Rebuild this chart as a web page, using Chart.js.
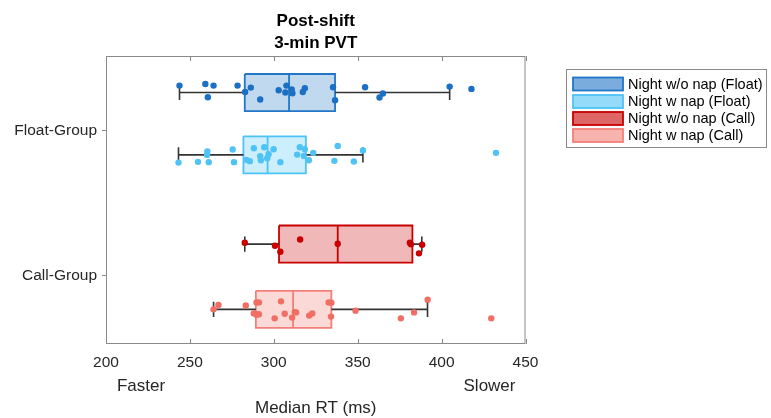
<!DOCTYPE html>
<html><head><meta charset="utf-8">
<script src="https://cdn.jsdelivr.net/npm/chart.js@4.4.1/dist/chart.umd.min.js"></script>
<style>html,body{margin:0;padding:0;background:#fff;}#wrap{width:771px;height:418px;position:relative;}</style>
</head><body><div id="wrap"><canvas id="c" width="771" height="418"></canvas></div>
<script>
// ---------- data ----------
const chartTitle = ['Post-shift', '3-min PVT'];
const xTitleLeft = 'Faster';
const xTitleRight = 'Slower';
const xTitle = 'Median RT (ms)';
const groupLabels = ['Float-Group', 'Call-Group'];
const groupPositions = [1, 2];
const xTickValues = [200, 250, 300, 350, 400, 450];
const seriesNames = ['Night w/o nap (Float)', 'Night w nap (Float)', 'Night w/o nap (Call)', 'Night w nap (Call)'];

const boxQ1      = [282.7, 281.9, 303.1, 289.3];
const boxMedian  = [309.1, 296.3, 338.1, 311.5];
const boxQ3      = [336.5, 319.1, 382.6, 334.3];
const whiskerLow = [243.8, 243.2, 282.7, 264.1];
const whiskerHigh= [404.8, 353.1, 388.2, 391.6];

const floatNoNapRT = [243.8, 259.2, 264.1, 278.4, 260.7, 286.3, 282.9, 291.9, 302.9, 307.5, 306.9, 310.7, 311.1, 317.3, 318.5, 335.3, 336.5, 354.4, 365.0, 363.0, 404.8, 417.8];
const floatNoNapJitter = [-0.048, -0.059, -0.048, -0.048, 0.032, -0.034, -0.004, 0.048, -0.016, -0.048, 0, -0.021, 0.005, -0.004, -0.030, -0.037, 0.053, -0.037, 0.007, 0.034, -0.041, -0.025];

const floatNapRT = [243.2, 254.8, 260.4, 260.2, 261.2, 275.5, 276.3, 283.7, 285.7, 288.1, 291.9, 292.3, 294.3, 296.1, 296.9, 299.9, 303.9, 315.5, 318.5, 313.9, 317.9, 320.9, 323.5, 338.1, 336.1, 347.7, 353.1, 432.4];
const floatNapJitter = [0.053, 0.048, -0.023, 0, 0.050, -0.037, 0.050, 0.034, 0.043, -0.046, 0.009, 0.037, -0.053, 0.023, -0.005, -0.039, 0.050, -0.053, -0.039, -0.002, 0.007, 0.037, -0.014, -0.062, 0.041, 0.046, -0.030, -0.014];

const callNoNapRT = [282.7, 300.7, 303.9, 315.7, 338.1, 381.1, 381.7, 388.4, 386.5];
const callNoNapJitter = [-0.009, 0.012, 0.053, -0.032, -0.002, -0.009, 0.002, 0.005, 0.064];

const callNapRT = [264.1, 267.0, 283.3, 289.7, 291.1, 288.1, 289.7, 291.1, 304.3, 306.5, 300.5, 310.9, 312.5, 313.3, 321.1, 322.9, 332.7, 334.3, 334.1, 348.7, 375.7, 383.6, 391.7, 429.6];
const callNapJitter = [0, -0.030, -0.026, -0.048, -0.048, 0.028, 0.037, 0.034, -0.055, 0.030, 0.062, 0.057, 0.019, 0.021, 0.043, 0.028, -0.048, -0.046, 0.050, 0.009, 0.062, 0.021, -0.067, 0.062];

// ---------- layout / style ----------
const rowPositions = [0.735, 1.165, 1.78, 2.23];
const BOX_HALF = 0.128;
const CAP_HALF = 0.052;
const edgeColors  = ['rgb(33,118,199)', 'rgb(77,195,245)', 'rgb(200,0,0)', 'rgb(242,128,120)'];
const fillColors  = ['rgba(33,118,199,0.28)', 'rgba(77,195,245,0.28)', 'rgba(200,0,0,0.28)', 'rgba(242,128,120,0.3)'];
const legendFills = ['rgba(33,118,199,0.6)', 'rgba(77,195,245,0.6)', 'rgba(200,0,0,0.6)', 'rgba(242,128,120,0.6)'];
const pointColors = ['rgb(28,112,196)', 'rgb(80,195,245)', 'rgb(200,0,0)', 'rgb(240,110,100)'];
const FONT = "'Liberation Sans', Arial, Helvetica, sans-serif";
const TEXT = '#262626';
const AXIS = '#8a8a8a';

const pointSets = [floatNoNapRT, floatNapRT, callNoNapRT, callNapRT];
const jitterSets = [floatNoNapJitter, floatNapJitter, callNoNapJitter, callNapJitter];

const datasets = [];
for (let i = 0; i < 4; i++) {
  const p = rowPositions[i];
  datasets.push({
    type: 'scatter', label: seriesNames[i],
    data: pointSets[i].map((v, k) => ({x: v, y: p + jitterSets[i][k]})),
    backgroundColor: pointColors[i], borderWidth: 0, pointRadius: 3.2, order: 0
  });
  datasets.push({
    type: 'line', label: seriesNames[i] + ' box',
    data: [{x: boxQ1[i], y: p - BOX_HALF}, {x: boxQ3[i], y: p - BOX_HALF}, {x: boxQ3[i], y: p + BOX_HALF}, {x: boxQ1[i], y: p + BOX_HALF}, {x: boxQ1[i], y: p - BOX_HALF}],
    borderColor: edgeColors[i], backgroundColor: fillColors[i], fill: 'shape',
    borderWidth: 1.8, pointRadius: 0, tension: 0, borderJoinStyle: 'miter', order: 3
  });
  datasets.push({
    type: 'line', label: seriesNames[i] + ' median',
    data: [{x: boxMedian[i], y: p - BOX_HALF}, {x: boxMedian[i], y: p + BOX_HALF}],
    borderColor: edgeColors[i], borderWidth: 1.8, pointRadius: 0, fill: false, order: 2
  });
  datasets.push({
    type: 'line', label: seriesNames[i] + ' whiskers',
    data: [
      {x: whiskerLow[i], y: p}, {x: boxQ1[i], y: p}, {x: null, y: null},
      {x: boxQ3[i], y: p}, {x: whiskerHigh[i], y: p}, {x: null, y: null},
      {x: whiskerLow[i], y: p - CAP_HALF}, {x: whiskerLow[i], y: p + CAP_HALF}, {x: null, y: null},
      {x: whiskerHigh[i], y: p - CAP_HALF}, {x: whiskerHigh[i], y: p + CAP_HALF}
    ],
    borderColor: '#333333', borderWidth: 1.6, pointRadius: 0, fill: false, spanGaps: false, order: 1
  });
}

const decorPlugin = {
  id: 'decor',
  afterDraw(chart) {
    const ctx = chart.ctx, ca = chart.chartArea, xs = chart.scales.x;
    ctx.save();
    // frame
    ctx.strokeStyle = AXIS; ctx.lineWidth = 1;
    ctx.strokeRect(ca.left + 0.5, ca.top + 0.5, ca.right - ca.left - 1, ca.bottom - ca.top - 1);
    // inside x ticks
    xTickValues.forEach(v => {
      const px = Math.round(xs.getPixelForValue(v)) + 0.5;
      ctx.beginPath();
      ctx.moveTo(px, ca.bottom); ctx.lineTo(px, ca.bottom - 5);
      ctx.moveTo(px, ca.top); ctx.lineTo(px, ca.top + 5);
      ctx.stroke();
    });
    // title
    const cx = (ca.left + ca.right) / 2;
    ctx.fillStyle = '#000';
    ctx.textAlign = 'center'; ctx.textBaseline = 'middle';
    ctx.font = 'bold 17px ' + FONT;
    ctx.fillText(chartTitle[0], cx, 21);
    ctx.fillText(chartTitle[1], cx, 43);
    // x title
    ctx.fillStyle = TEXT;
    ctx.font = '17px ' + FONT;
    ctx.fillText(xTitleLeft, ca.left + 35, 386);
    ctx.fillText(xTitleRight, ca.right - 36, 386);
    ctx.fillText(xTitle, cx, 408);
    // legend
    const lx = 566, ly = 69, lw = 200, lh = 78;
    ctx.fillStyle = '#fff';
    ctx.fillRect(lx, ly, lw, lh);
    ctx.strokeStyle = '#8a8a8a'; ctx.lineWidth = 1;
    ctx.strokeRect(lx + 0.5, ly + 0.5, lw, lh);
    const rows = [84, 101.5, 118.5, 135.5];
    ctx.font = '14.5px ' + FONT;
    ctx.textAlign = 'left'; ctx.textBaseline = 'middle';
    for (let i = 0; i < 4; i++) {
      ctx.fillStyle = legendFills[i];
      ctx.fillRect(573, rows[i] - 6.5, 50, 13);
      ctx.strokeStyle = edgeColors[i]; ctx.lineWidth = 1.8;
      ctx.strokeRect(573, rows[i] - 6.5, 50, 13);
      ctx.fillStyle = '#000';
      ctx.fillText(seriesNames[i], 628, rows[i] + 0.5);
    }
    ctx.restore();
  }
};

new Chart(document.getElementById('c'), {
  type: 'scatter',
  data: { datasets },
  options: {
    responsive: false, animation: false, events: [],
    layout: { padding: { left: 0, right: 245.5, top: 56, bottom: 44 } },
    plugins: { legend: { display: false }, tooltip: { enabled: false }, title: { display: false } },
    scales: {
      x: {
        type: 'linear', min: 200, max: 450,
        afterBuildTicks: s => { s.ticks = xTickValues.map(v => ({value: v})); },
        afterFit: s => { s.height = 30; },
        grid: { drawOnChartArea: false, drawTicks: false },
        border: { display: false },
        ticks: { color: TEXT, font: { family: FONT, size: 15.5 }, padding: 9 }
      },
      y: {
        type: 'linear', reverse: true, min: 0.483, max: 2.469,
        afterBuildTicks: s => { s.ticks = groupPositions.map(v => ({value: v})); },
        afterFit: s => { s.width = 106; },
        grid: { drawOnChartArea: false, drawTicks: true, tickLength: 4, color: AXIS },
        border: { display: false },
        ticks: {
          color: TEXT, font: { family: FONT, size: 15.5 }, padding: 5,
          callback: v => { const k = groupPositions.indexOf(v); return k >= 0 ? groupLabels[k] : ''; }
        }
      }
    }
  },
  plugins: [decorPlugin]
});
</script>
</body></html>
